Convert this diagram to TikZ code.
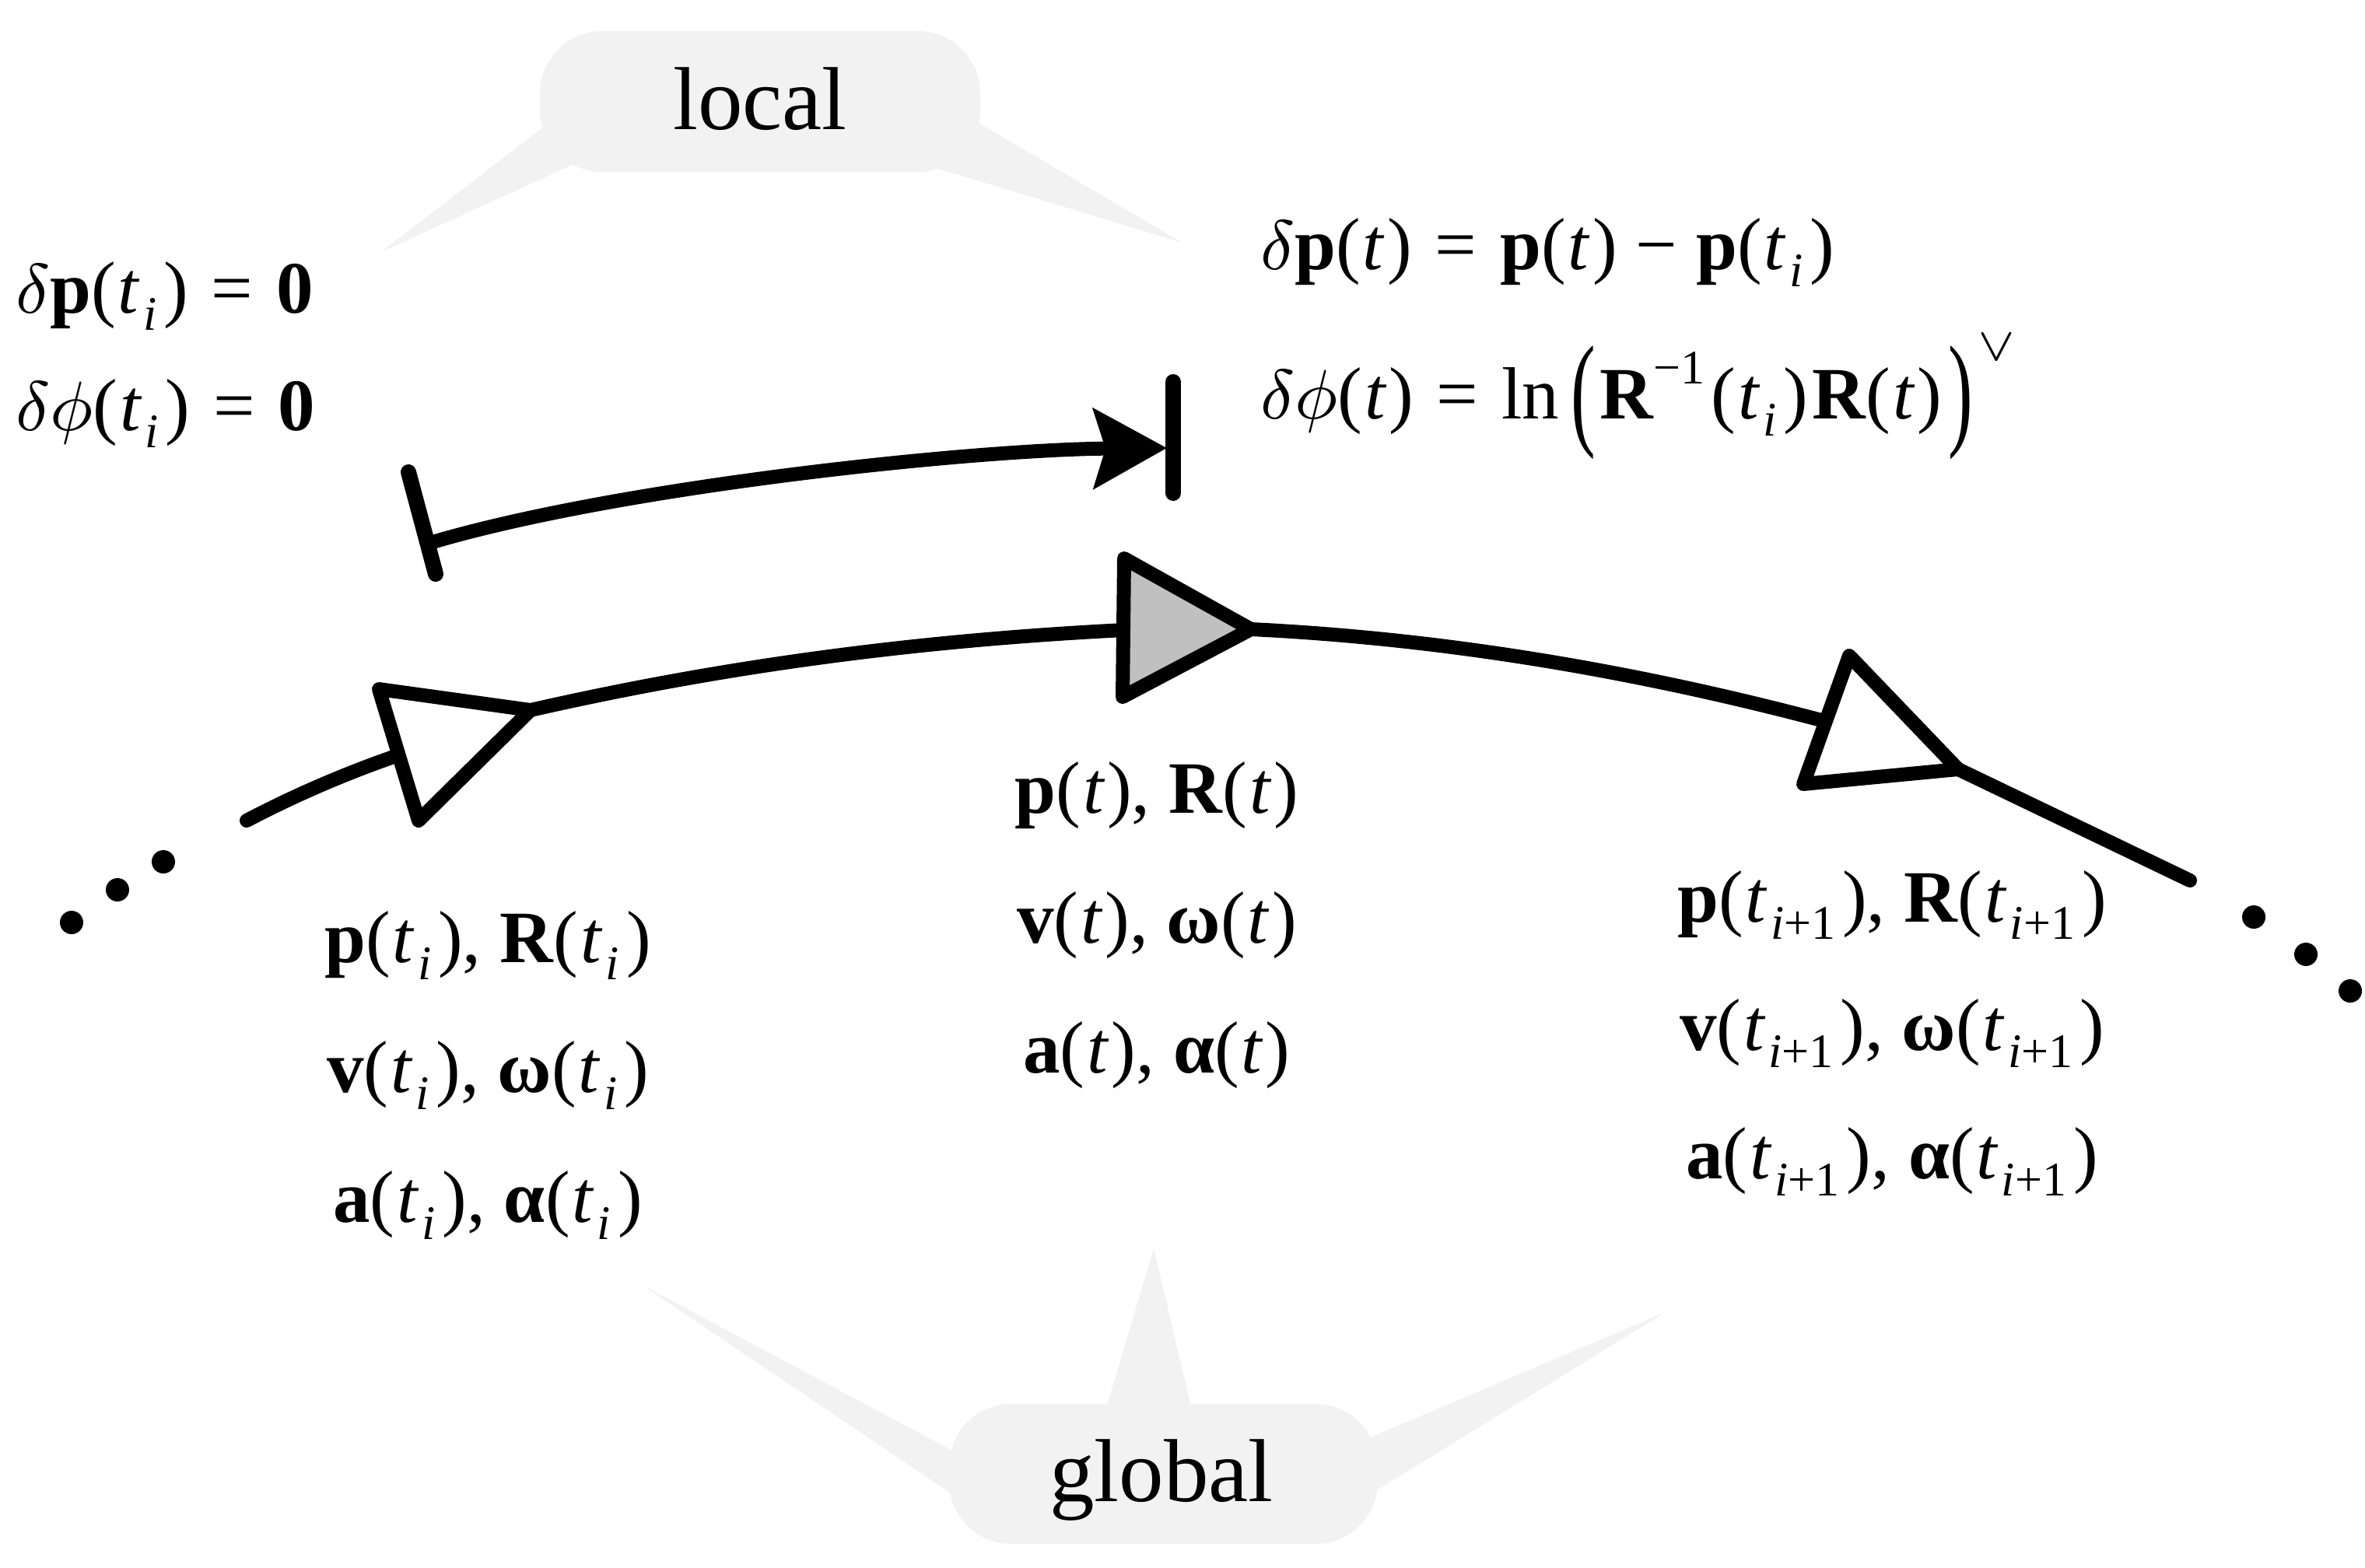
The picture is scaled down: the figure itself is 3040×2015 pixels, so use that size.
\documentclass[tikz,border=0pt]{standalone}
\usepackage{fontspec}
\setmainfont{Liberation Serif}
\usepackage{graphicx}
\usetikzlibrary{arrows.meta}
\definecolor{bubble}{RGB}{242,242,242}
\definecolor{nodegray}{RGB}{192,192,192}
\newcommand\Bf[1]{\textbf{#1}}
\newcommand\Ti{\textit{t}\kern0.4pt\raisebox{-2.2pt}{\fontsize{6.2}{6}\selectfont\textit{i}}\kern0.6pt}
\newcommand\Tip{\textit{t}\kern0.4pt\raisebox{-2.2pt}{\fontsize{6.2}{6}\selectfont\textit{i}+1}\kern0.6pt}
\newcommand\Tt{\textit{t}}
\newcommand\LP{(\kern0.3pt}
\newcommand\RP{\kern0.3pt)}
\newcommand\BigL{\raisebox{-1.8pt}{\scalebox{1}[1.7]{(}}}
\newcommand\BigR{\raisebox{-1.8pt}{\scalebox{1}[1.7]{)}}}
\newcommand\Sup[2]{\raisebox{#1}{\fontsize{6.2}{6}\selectfont #2}}
\newcommand\Eq{\kern3pt=\kern3pt}
\begin{document}
\begin{tikzpicture}[x=0.1pt,y=-0.1pt,
  formula/.style={inner sep=0pt, font=\fontsize{9.5}{11}\selectfont},
  word/.style={inner sep=0pt, font=\fontsize{11.5}{13}\selectfont},
  thickline/.style={line width=1.8pt, line cap=round, line join=round},
  barline/.style={line width=2pt, line cap=round},
  trinode/.style={line width=1.8pt, line join=round}]
\useasboundingbox (0,0) rectangle (3040,2015);

% local bubble
\fill[bubble, rounded corners=8pt] (694,40) rectangle (1260,221);
\fill[bubble] (490,324) -- (730,139) -- (777,193) -- cycle;
\fill[bubble] (1520,312) -- (1215,133) -- (1170,206) -- cycle;
\node[word, anchor=base] (local) at (977,166) {local};

% global bubble
\fill[bubble, rounded corners=8pt] (1220,1805) rectangle (1771,1985);
\fill[bubble] (825,1652) -- (1254,1881) -- (1249,1938) -- cycle;
\fill[bubble] (1483,1605) -- (1536,1830) -- (1416,1830) -- cycle;
\fill[bubble] (2141,1687) -- (1737,1936) -- (1726,1863) -- cycle;
\node[word, anchor=base] (global) at (1493,1930) {global};

% triangle vertices (trajectory nodes)
\coordinate (n1a) at (487,886);
\coordinate (n1b) at (538,1055);
\coordinate (n1c) at (682,913);
\coordinate (n2a) at (1445,718);
\coordinate (n2b) at (1443,896);
\coordinate (n2c) at (1608,809);
\coordinate (n3a) at (2377,843);
\coordinate (n3b) at (2318,1008);
\coordinate (n3c) at (2517,989);

% trajectory segments
\coordinate (s0) at (317,1055);
\coordinate (s1) at (506,973);
\coordinate (s2) at (1445,810);
\coordinate (s3) at (2345,927);
\coordinate (s4) at (2815,1132);
\draw[thickline] (s0) .. controls (376,1024) and (440,996) .. (s1);
\draw[thickline] (n1c) .. controls (936,855) and (1185,823) .. (s2);
\draw[thickline] (n2c) .. controls (1855,821) and (2100,862) .. (s3);
\draw[thickline] (n3c) -- (s4);

% nodes on trajectory
\filldraw[trinode, fill=white] (n1a) -- (n1b) -- (n1c) -- cycle;
\filldraw[trinode, fill=nodegray] (n2a) -- (n2b) -- (n2c) -- cycle;
\filldraw[trinode, fill=white] (n3a) -- (n3b) -- (n3c) -- cycle;

% dots
\fill (92,1186) circle[radius=15];
\fill (151,1144) circle[radius=15];
\fill (210,1108) circle[radius=15];
\fill (2897,1179) circle[radius=15];
\fill (2964,1227) circle[radius=15];
\fill (3021,1274) circle[radius=15];

% local increment arrow
\coordinate (bl1) at (525,607);
\coordinate (bl2) at (560,738);
\coordinate (br1) at (1508,491);
\coordinate (br2) at (1508,634);
\coordinate (as) at (556,697);
\coordinate (ae) at (1500,576);
\draw[barline] (bl1) -- (bl2);
\draw[barline] (br1) -- (br2);
\draw[thickline, -{Stealth[length=9.4pt, width=10.2pt, inset=1.5pt]}] (as) .. controls (800,625) and (1250,578) .. (ae);

% equations
\node[formula, anchor=base west] (eqa) at (18,402) {$\delta$\Bf{p}\LP\Ti\RP\Eq\Bf{0}};
\node[formula, anchor=base west] (eqb) at (18,553) {$\delta\phi$\LP\Ti\RP\Eq\Bf{0}};
\node[formula, anchor=base west] (eqc) at (1618,346) {$\delta$\Bf{p}\LP\Tt\RP\Eq\Bf{p}\LP\Tt\RP\kern2.4pt−\kern2.4pt\Bf{p}\LP\Ti\RP};
\node[formula, anchor=base west] (eqd) at (1618,538) {$\delta\phi$\LP\Tt\RP\Eq ln\kern1.5pt\BigL\kern0.5pt\Bf{R}\Sup{4.5pt}{−1}\kern0.8pt\LP\Ti\RP\kern0.5pt\Bf{R}\LP\Tt\RP\kern0.8pt\BigR\kern0.6pt\Sup{7.5pt}{$\vee$}};

% state labels
\node[formula, anchor=base] (l1) at (627,1237) {\Bf{p}\LP\Ti\RP, \Bf{R}\LP\Ti\RP};
\node[formula, anchor=base] (l2) at (627,1404) {\Bf{v}\LP\Ti\RP, \Bf{ω}\LP\Ti\RP};
\node[formula, anchor=base] (l3) at (627,1571) {\Bf{a}\LP\Ti\RP, \Bf{α}\LP\Ti\RP};
\node[formula, anchor=base] (m1) at (1487,1045) {\Bf{p}\LP\Tt\RP, \Bf{R}\LP\Tt\RP};
\node[formula, anchor=base] (m2) at (1487,1212) {\Bf{v}\LP\Tt\RP, \Bf{ω}\LP\Tt\RP};
\node[formula, anchor=base] (m3) at (1487,1379) {\Bf{a}\LP\Tt\RP, \Bf{α}\LP\Tt\RP};
\node[formula, anchor=base] (r1) at (2432,1185) {\Bf{p}\LP\Tip\RP, \Bf{R}\LP\Tip\RP};
\node[formula, anchor=base] (r2) at (2432,1350) {\Bf{v}\LP\Tip\RP, \Bf{ω}\LP\Tip\RP};
\node[formula, anchor=base] (r3) at (2432,1515) {\Bf{a}\LP\Tip\RP, \Bf{α}\LP\Tip\RP};
\end{tikzpicture}
\end{document}
